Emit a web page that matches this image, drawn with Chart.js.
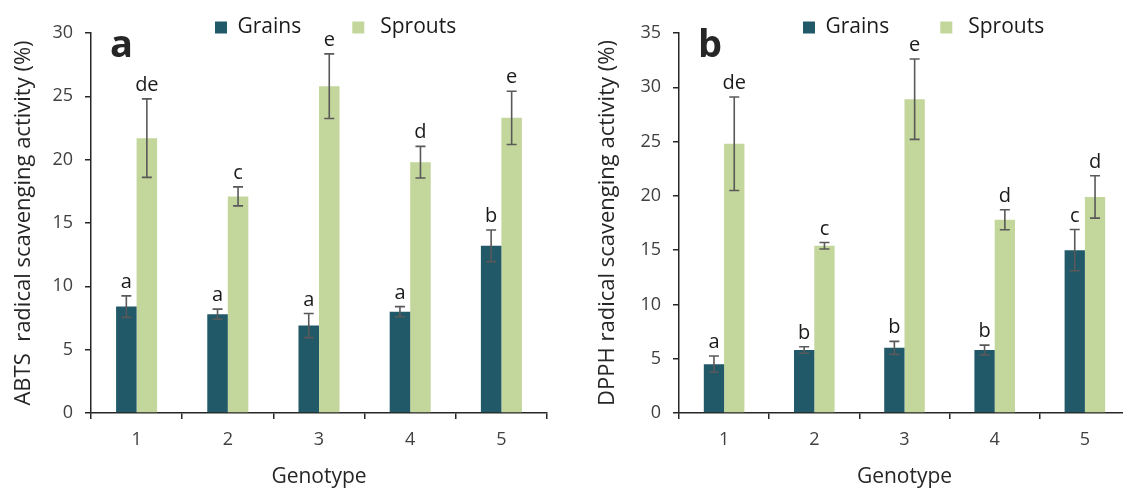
<!DOCTYPE html>
<html>
<head>
<meta charset="utf-8">
<title>ABTS / DPPH radical scavenging activity</title>
<script src="https://cdn.jsdelivr.net/npm/chart.js@4.4.1/dist/chart.umd.min.js"></script>
<style>
  html, body { margin: 0; padding: 0; background: #fff; overflow: hidden; }
  #wrap { position: relative; width: 1123px; height: 490px; overflow: hidden; }
  .panel { position: absolute; top: 0; }
  #p1 { left: 0; }
  #p2 { left: 560px; }
</style>
</head>
<body>
<div id="wrap">
  <div class="panel" id="p1"><canvas id="chartA" width="560" height="490"></canvas></div>
  <div class="panel" id="p2"><canvas id="chartB" width="575" height="490"></canvas></div>
</div>
<script>
// данные
const genotypes = ['1', '2', '3', '4', '5'];

// панель a — ABTS
const abtsGrains = [8.4, 7.8, 6.9, 8.0, 13.2];
const abtsGrainsErr = [0.85, 0.4, 0.95, 0.4, 1.25];
const abtsSprouts = [21.7, 17.1, 25.8, 19.8, 23.3];
const abtsSproutsErr = [3.1, 0.75, 2.55, 1.25, 2.1];
const abtsGrainsLetters = ['a', 'a', 'a', 'a', 'b'];
const abtsSproutsLetters = ['de', 'c', 'e', 'd', 'e'];
const abtsTicks = [0, 5, 10, 15, 20, 25, 30];

// панель b — DPPH
const dpphGrains = [4.5, 5.8, 6.0, 5.8, 15.0];
const dpphGrainsErr = [0.75, 0.3, 0.6, 0.45, 1.9];
const dpphSprouts = [24.8, 15.4, 28.9, 17.8, 19.9];
const dpphSproutsErr = [4.3, 0.3, 3.7, 0.92, 1.95];
const dpphGrainsLetters = ['a', 'b', 'b', 'b', 'c'];
const dpphSproutsLetters = ['de', 'c', 'e', 'd', 'd'];
const dpphTicks = [0, 5, 10, 15, 20, 25, 30, 35];

const FONT = "'Open Sans', sans-serif";
const GRAIN_COLOR = '#215968';
const SPROUT_COLOR = '#C3D69B';
const AXIS_COLOR = '#262626';
const TEXT_COLOR = '#404040';

// усы ошибок и буквы значимости
function errorBarsPlugin(errors, letters) {
  return {
    id: 'errorBars',
    afterDatasetsDraw(chart) {
      const ctx = chart.ctx;
      const yScale = chart.scales.y;
      ctx.save();
      chart.data.datasets.forEach((ds, i) => {
        const meta = chart.getDatasetMeta(i);
        meta.data.forEach((bar, j) => {
          const v = ds.data[j];
          const e = errors[i][j];
          const yTop = yScale.getPixelForValue(v + e);
          const yBot = yScale.getPixelForValue(v - e);
          ctx.strokeStyle = '#595959';
          ctx.lineWidth = 1.6;
          ctx.beginPath();
          ctx.moveTo(bar.x, yTop);
          ctx.lineTo(bar.x, yBot);
          ctx.moveTo(bar.x - 5, yTop);
          ctx.lineTo(bar.x + 5, yTop);
          ctx.moveTo(bar.x - 5, yBot);
          ctx.lineTo(bar.x + 5, yBot);
          ctx.stroke();

          ctx.fillStyle = '#1a1a1a';
          ctx.font = '20px ' + FONT;
          ctx.textAlign = 'center';
          ctx.textBaseline = 'alphabetic';
          ctx.fillText(letters[i][j], bar.x, yTop - 8);
        });
      });
      ctx.restore();
    }
  };
}

// буква панели + сдвиг легенды поверх области графика
function panelPlugin(panelLetter) {
  return {
    id: 'panelLabel',
    afterLayout(chart) {
      const lg = chart.legend;
      const w = lg.right - lg.left;
      const h = lg.bottom - lg.top;
      lg.left = chart.chartArea.left + 122;
      lg.right = lg.left + w;
      lg.top = 15;
      lg.bottom = lg.top + h;
    },
    afterDraw(chart) {
      const ctx = chart.ctx;
      ctx.save();
      ctx.fillStyle = '#262626';
      ctx.font = 'bold 38px ' + FONT;
      ctx.textAlign = 'left';
      ctx.textBaseline = 'alphabetic';
      ctx.fillText(panelLetter, chart.chartArea.left + 19, 57);
      ctx.restore();
    }
  };
}

function makePanel(canvasId, o) {
  return new Chart(document.getElementById(canvasId), {
    type: 'bar',
    data: {
      labels: genotypes,
      datasets: [
        { label: 'Grains', data: o.grains, backgroundColor: GRAIN_COLOR, borderWidth: 0 },
        { label: 'Sprouts', data: o.sprouts, backgroundColor: SPROUT_COLOR, borderWidth: 0 }
      ]
    },
    options: {
      responsive: false,
      animation: false,
      layout: { padding: { left: 0, right: o.padRight, top: 0, bottom: 0 } },
      datasets: { bar: { categoryPercentage: 0.45, barPercentage: 1 } },
      plugins: {
        tooltip: { enabled: false },
        legend: {
          position: 'top',
          align: 'start',
          labels: {
            boxWidth: 12,
            boxHeight: 12,
            padding: 2,
            color: '#1a1a1a',
            font: { family: FONT, size: 21 },
            generateLabels(chart) {
              const items = Chart.defaults.plugins.legend.labels.generateLabels(chart);
              items[0].text += '         ';
              items[1].text = ' ' + items[1].text;
              return items;
            }
          }
        }
      },
      scales: {
        x: {
          afterFit(scale) { scale.height = 77; },
          grid: { display: true, drawOnChartArea: false, offset: true, tickLength: 6, color: AXIS_COLOR, lineWidth: 1.5 },
          border: { display: true, color: AXIS_COLOR, width: 1.5 },
          ticks: { color: TEXT_COLOR, padding: 10, font: { family: FONT, size: 18 } },
          title: {
            display: true,
            text: 'Genotype',
            color: '#262626',
            font: { family: FONT, size: 21 },
            padding: { top: 0, bottom: 0 }
          }
        },
        y: {
          min: 0,
          max: o.ticks[o.ticks.length - 1],
          afterFit(scale) { scale.width = o.axisLeft; },
          afterBuildTicks(scale) { scale.ticks = o.ticks.map(v => ({ value: v })); },
          grid: { display: true, drawOnChartArea: false, tickLength: 6, color: AXIS_COLOR, lineWidth: 1.5 },
          border: { display: true, color: AXIS_COLOR, width: 1.5 },
          ticks: { color: TEXT_COLOR, padding: 12, font: { family: FONT, size: 18 } },
          title: {
            display: true,
            text: o.yTitle,
            color: '#262626',
            font: { family: FONT, size: 22 },
            padding: { top: o.titlePad, bottom: 0 }
          }
        }
      }
    },
    plugins: [
      errorBarsPlugin([o.grainsErr, o.sproutsErr], [o.grainsLetters, o.sproutsLetters]),
      panelPlugin(o.panel)
    ]
  });
}

makePanel('chartA', {
  grains: abtsGrains, sprouts: abtsSprouts,
  grainsErr: abtsGrainsErr, sproutsErr: abtsSproutsErr,
  grainsLetters: abtsGrainsLetters, sproutsLetters: abtsSproutsLetters,
  ticks: abtsTicks,
  yTitle: 'ABTS  radical scavenging activity (%)',
  panel: 'a', axisLeft: 91, padRight: 13, titlePad: 11
});

makePanel('chartB', {
  grains: dpphGrains, sprouts: dpphSprouts,
  grainsErr: dpphGrainsErr, sproutsErr: dpphSproutsErr,
  grainsLetters: dpphGrainsLetters, sproutsLetters: dpphSproutsLetters,
  ticks: dpphTicks,
  yTitle: 'DPPH radical scavenging activity (%)',
  panel: 'b', axisLeft: 119, padRight: 5, titlePad: 35
});
</script>
</body>
</html>
